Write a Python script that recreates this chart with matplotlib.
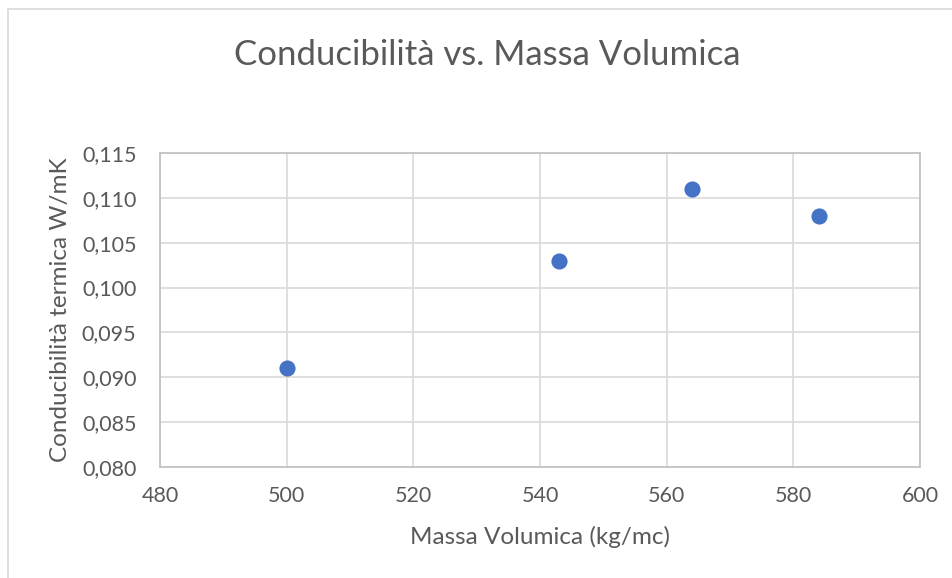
import matplotlib
matplotlib.use("Agg")
import matplotlib.pyplot as plt
from matplotlib.patches import Rectangle
from matplotlib.ticker import FuncFormatter, MultipleLocator

massa = [500, 543, 564, 584]
conducibilita = [0.091, 0.103, 0.111, 0.108]

plt.rcParams['font.family'] = ['Lato', 'DejaVu Sans']

fig = plt.figure(figsize=(9.53, 5.78), dpi=100)
ax = fig.add_axes([160 / 953, 1 - 467 / 578, 760 / 953, 314 / 578])

# chart frame (cut at right/bottom, as in the screenshot)
fig.patches.append(Rectangle((8 / 953, -0.1), 1.2, 1 - 9 / 578 + 0.1,
                             transform=fig.transFigure, fill=False,
                             edgecolor="#D9D9D9", linewidth=1.2))

ax.scatter(massa, conducibilita, s=135, color="#4472C4", zorder=3, linewidths=0)

ax.set_xlim(480, 600)
ax.set_ylim(0.080, 0.115)
ax.xaxis.set_major_locator(MultipleLocator(20))
ax.yaxis.set_major_locator(MultipleLocator(0.005))
ax.yaxis.set_major_formatter(FuncFormatter(lambda v, p: f"{v:.3f}".replace(".", ",")))
ax.grid(True, color="#D9D9D9", linewidth=1.2)
ax.set_axisbelow(True)
for s in ax.spines.values():
    s.set_color("#BFBFBF")
    s.set_linewidth(1.2)
ax.tick_params(length=0, labelsize=15.5, colors="#595959")
ax.tick_params(axis="y", pad=17)
ax.tick_params(axis="x", pad=14)

ax.set_xlabel("Massa Volumica (kg/mc)", fontsize=17.5, color="#595959", labelpad=14)
ax.set_ylabel("Conducibilità termica W/mK", fontsize=17.5, color="#595959", labelpad=8)
fig.text(487 / 953, 1 - 55 / 578, "Conducibilità vs. Massa Volumica", fontsize=25,
         color="#595959", ha="center", va="center")

fig.savefig("out.png", dpi=100)
